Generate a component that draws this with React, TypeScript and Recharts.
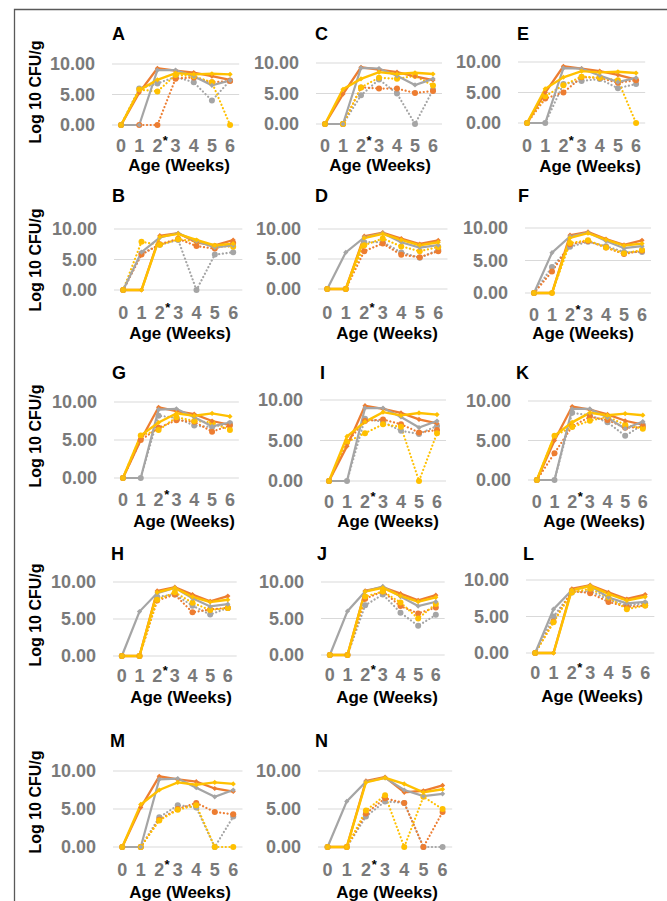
import React from 'react';
import { LineChart, Line, XAxis, YAxis, CartesianGrid } from 'recharts';

const weeks = ['0', '1', '2', '3', '4', '5', '6'];
const yTicks = [0, 5, 10];

// gs/os/ys = solid gray/orange/gold ; gd/od/yd = dotted gray/orange/gold
const A_gs = [0, 0, 9.0, 9.0, 8.0, 6.5, 7.3];
const A_os = [0, 5.3, 9.3, 8.9, 8.6, 8.0, 7.4];
const A_ys = [0, 5.7, 7.4, 8.5, 8.3, 8.4, 8.3];
const A_gd = [0, 6.0, 6.8, 7.9, 7.0, 4.0, 7.3];
const A_od = [0, 0, 0, 7.6, 7.8, 7.0, 7.2];
const A_yd = [0, 5.8, 5.5, 8.2, 8.0, 7.0, 0];

const C_gs = [0, 0, 9.2, 9.1, 7.9, 6.4, 7.4];
const C_os = [0, 4.9, 9.3, 8.9, 8.5, 7.8, 7.2];
const C_ys = [0, 5.7, 7.4, 8.5, 8.2, 8.4, 8.2];
const C_gd = [0, 0, 4.7, 7.3, 5.0, 0, 5.6];
const C_od = [0, 0, 6.0, 5.8, 5.8, 5.1, 5.4];
const C_yd = [0, 0, 6.0, 7.6, 7.4, 7.9, 6.3];

const E_gs = [0, 0, 9.0, 8.9, 7.8, 6.7, 7.4];
const E_os = [0, 5.0, 9.3, 8.9, 8.5, 7.9, 7.1];
const E_ys = [0, 5.6, 7.5, 8.5, 8.3, 8.4, 8.2];
const E_gd = [0, 0, 6.4, 6.9, 7.2, 5.7, 6.4];
const E_od = [0, 4.0, 5.0, 7.5, 7.4, 6.6, 7.0];
const E_yd = [0, 4.4, 6.2, 7.6, 7.4, 7.0, 0];

const B_gs = [0, 6.2, 8.6, 9.3, 8.0, 7.0, 7.3];
const B_os = [0, 0, 8.9, 9.3, 7.8, 7.3, 8.2];
const B_ys = [0, 0, 8.7, 9.2, 8.2, 7.3, 7.6];
const B_gd = [0, 6.0, 7.4, 8.2, 0, 5.8, 6.2];
const B_od = [0, 5.8, 7.5, 8.4, 7.2, 6.8, 7.7];
const B_yd = [0, 7.9, 7.4, 8.3, 8.0, 7.2, 7.1];

const D_gs = [0, 6.1, 8.6, 9.3, 7.8, 6.9, 7.3];
const D_os = [0, 0, 8.8, 9.4, 8.4, 7.5, 8.1];
const D_ys = [0, 0, 8.5, 9.2, 8.2, 7.3, 7.8];
const D_gd = [0, 0, 7.8, 7.8, 6.1, 5.2, 6.5];
const D_od = [0, 0, 6.3, 7.6, 5.7, 5.3, 6.3];
const D_yd = [0, 0, 7.3, 8.4, 7.1, 6.3, 7.0];

const F_gs = [0, 6.2, 8.7, 9.3, 8.0, 6.9, 7.2];
const F_os = [0, 0, 8.9, 9.4, 8.3, 7.4, 8.1];
const F_ys = [0, 0, 8.5, 9.2, 8.2, 7.3, 7.6];
const F_gd = [0, 4.0, 7.1, 7.9, 7.2, 6.3, 6.3];
const F_od = [0, 3.3, 7.5, 8.0, 7.0, 6.0, 6.5];
const F_yd = [0, 0, 7.7, 8.1, 7.0, 6.1, 6.6];

const G_gs = [0, 0, 9.0, 9.1, 8.0, 6.8, 7.3];
const G_os = [0, 5.0, 9.3, 8.8, 8.4, 7.5, 7.0];
const G_ys = [0, 5.6, 7.3, 8.5, 8.2, 8.5, 8.1];
const G_gd = [0, 0, 8.2, 7.9, 6.9, 6.7, 7.2];
const G_od = [0, 5.0, 6.6, 7.6, 7.4, 6.1, 6.9];
const G_yd = [0, 5.6, 6.3, 8.0, 7.5, 7.3, 6.3];

const I_gs = [0, 0, 9.0, 9.0, 7.9, 6.6, 7.4];
const I_os = [0, 4.3, 9.3, 8.9, 8.4, 7.6, 7.1];
const I_ys = [0, 5.5, 7.3, 8.5, 8.1, 8.4, 8.2];
const I_gd = [0, 0, 7.7, 7.3, 6.2, 5.8, 6.8];
const I_od = [0, 4.8, 7.4, 7.6, 7.0, 6.0, 6.3];
const I_yd = [0, 4.8, 5.9, 7.0, 6.7, 0, 5.9];

const K_gs = [0, 0, 9.0, 9.0, 7.9, 6.5, 7.4];
const K_os = [0, 5.0, 9.3, 8.9, 8.3, 7.5, 7.0];
const K_ys = [0, 5.6, 7.3, 8.5, 8.2, 8.4, 8.2];
const K_gd = [0, 0, 8.5, 8.2, 7.3, 5.6, 7.0];
const K_od = [0, 3.4, 6.8, 8.0, 7.6, 6.6, 6.7];
const K_yd = [0, 5.6, 6.7, 7.5, 8.0, 7.0, 6.5];

const H_gs = [0, 6.0, 8.5, 9.2, 7.8, 6.7, 7.0];
const H_os = [0, 0, 8.8, 9.3, 8.3, 7.4, 8.1];
const H_ys = [0, 0, 8.6, 9.2, 8.0, 7.3, 7.6];
const H_gd = [0, 0, 8.0, 8.3, 6.8, 5.6, 6.5];
const H_od = [0, 0, 7.5, 8.3, 5.9, 6.3, 6.5];
const H_yd = [0, 0, 7.6, 8.6, 7.2, 6.2, 6.5];

const J_gs = [0, 6.0, 8.7, 9.4, 8.0, 6.7, 7.3];
const J_os = [0, 0, 8.8, 9.3, 8.4, 7.5, 8.2];
const J_ys = [0, 0, 8.7, 9.2, 8.1, 7.3, 7.9];
const J_gd = [0, 0, 6.8, 8.3, 5.8, 4.0, 5.5];
const J_od = [0, 0, 7.7, 8.7, 6.7, 5.7, 6.5];
const J_yd = [0, 0, 8.0, 8.7, 7.2, 5.0, 7.0];

const L_gs = [0, 6.0, 8.6, 9.2, 7.6, 6.8, 7.0];
const L_os = [0, 0, 8.8, 9.3, 8.3, 7.4, 8.0];
const L_ys = [0, 0, 8.6, 9.2, 8.1, 7.2, 7.7];
const L_gd = [0, 5.0, 8.3, 8.5, 7.3, 6.5, 6.8];
const L_od = [0, 4.3, 8.5, 8.2, 7.0, 6.3, 6.5];
const L_yd = [0, 4.2, 8.3, 8.8, 7.6, 6.0, 6.5];

const M_gs = [0, 0, 8.9, 9.0, 7.8, 6.6, 7.5];
const M_os = [0, 5.2, 9.3, 8.9, 8.6, 7.7, 7.3];
const M_ys = [0, 5.6, 7.5, 8.5, 8.2, 8.5, 8.3];
const M_gd = [0, 0, 3.9, 5.5, 5.2, 0, 4.0];
const M_od = [0, 0, 3.6, 5.0, 5.8, 4.6, 4.3];
const M_yd = [0, 0, 3.5, 4.9, 5.5, 0, 0];

const N_gs = [0, 6.0, 8.6, 9.1, 7.5, 6.7, 7.0];
const N_os = [0, 0, 8.7, 9.2, 7.2, 7.4, 8.1];
const N_ys = [0, 0, 8.5, 9.1, 8.3, 7.2, 7.6];
const N_gd = [0, 0, 4.0, 6.0, 5.8, 0, 0];
const N_od = [0, 0, 4.4, 6.4, 5.8, 0, 4.6];
const N_yd = [0, 0, 4.8, 6.8, 0, 6.6, 5.0];

const seriesById: Record<string, number[][]> = {
  A: [A_gs, A_os, A_ys, A_gd, A_od, A_yd],
  C: [C_gs, C_os, C_ys, C_gd, C_od, C_yd],
  E: [E_gs, E_os, E_ys, E_gd, E_od, E_yd],
  B: [B_gs, B_os, B_ys, B_gd, B_od, B_yd],
  D: [D_gs, D_os, D_ys, D_gd, D_od, D_yd],
  F: [F_gs, F_os, F_ys, F_gd, F_od, F_yd],
  G: [G_gs, G_os, G_ys, G_gd, G_od, G_yd],
  I: [I_gs, I_os, I_ys, I_gd, I_od, I_yd],
  K: [K_gs, K_os, K_ys, K_gd, K_od, K_yd],
  H: [H_gs, H_os, H_ys, H_gd, H_od, H_yd],
  J: [J_gs, J_os, J_ys, J_gd, J_od, J_yd],
  L: [L_gs, L_os, L_ys, L_gd, L_od, L_yd],
  M: [M_gs, M_os, M_ys, M_gd, M_od, M_yd],
  N: [N_gs, N_os, N_ys, N_gd, N_od, N_yd],
};

// layout (page pixels)
type Lay = { id: string; x0: number; x6: number; y10: number; y0: number; lx: number; ly: number; ax: number; tOff: number; aOff: number; yl?: number };
const layouts: Lay[] = [
  { id: 'A', x0: 121, x6: 230, y10: 64, y0: 125, lx: 112, ly: 33, ax: 179, tOff: 21, aOff: 40, yl: 92 },
  { id: 'C', x0: 325, x6: 433, y10: 63, y0: 124, lx: 315, ly: 33, ax: 380, tOff: 22, aOff: 41 },
  { id: 'E', x0: 527, x6: 636, y10: 62, y0: 123, lx: 517, ly: 33, ax: 590, tOff: 23, aOff: 43 },
  { id: 'B', x0: 123, x6: 233, y10: 229, y0: 290, lx: 112, ly: 195, ax: 180, tOff: 23, aOff: 43, yl: 260 },
  { id: 'D', x0: 327, x6: 438, y10: 229, y0: 289, lx: 315, ly: 195, ax: 387, tOff: 24, aOff: 44 },
  { id: 'F', x0: 534, x6: 642, y10: 228, y0: 293, lx: 518, ly: 195, ax: 583, tOff: 22, aOff: 40 },
  { id: 'G', x0: 123, x6: 230, y10: 402, y0: 478, lx: 112, ly: 372, ax: 184, tOff: 22, aOff: 43, yl: 436 },
  { id: 'I', x0: 329, x6: 437, y10: 400, y0: 481, lx: 320, ly: 372, ax: 388, tOff: 21, aOff: 40 },
  { id: 'K', x0: 537, x6: 643, y10: 401, y0: 480, lx: 516, ly: 372, ax: 594, tOff: 22, aOff: 41 },
  { id: 'H', x0: 122, x6: 228, y10: 582, y0: 656, lx: 111, ly: 553, ax: 181, tOff: 20, aOff: 41, yl: 615 },
  { id: 'J', x0: 330, x6: 436, y10: 582, y0: 655, lx: 317, ly: 553, ax: 387, tOff: 20, aOff: 42 },
  { id: 'L', x0: 535, x6: 645, y10: 580, y0: 653, lx: 523, ly: 553, ax: 592, tOff: 20, aOff: 43 },
  { id: 'M', x0: 122, x6: 233, y10: 771, y0: 847, lx: 110, ly: 740, ax: 180, tOff: 23, aOff: 45, yl: 802 },
  { id: 'N', x0: 328, x6: 443, y10: 771, y0: 847, lx: 315, ly: 740, ax: 387, tOff: 23, aOff: 45 },
];

const GRAY = '#A5A5A5';
const ORANGE = '#ED7D31';
const GOLD = '#FFC000';
const FONT = '"Liberation Sans", Arial, sans-serif';
const TICK = '#7a7a7a';
const GAP = 17;

const keys = ['gs', 'os', 'ys', 'gd', 'od', 'yd'];

const diamond = (color: string) => (p: any) => {
  const { cx, cy, index } = p;
  if (cx == null || cy == null) return <g key={`e${index}`} />;
  const s = 2.6;
  return <path key={`d${index}`} d={`M${cx},${cy - s}L${cx + s},${cy}L${cx},${cy + s}L${cx - s},${cy}Z`} fill={color} />;
};

function Panel({ L }: { L: Lay }) {
  const ser = seriesById[L.id];
  const step = (L.x6 - L.x0) / 6;
  const plotL = L.x0 - step / 2;
  const plotR = L.x6 + step / 2;
  const tr = plotL - GAP;
  const chartLeft = tr - 56;
  const yw = plotL - chartLeft;
  const top = L.y10 - 10;
  const plotH = L.y0 - L.y10;
  const h = 10 + plotH + 40;
  const w = yw + (plotR - plotL) + 4;
  const data = weeks.map((wk, i) => {
    const row: any = { wk };
    keys.forEach((k, j) => { row[k] = ser[j][i]; });
    return row;
  });
  const dotted = (key: string, color: string) => (
    <Line key={key} dataKey={key} type="linear" stroke={color} strokeWidth={2.2}
      strokeDasharray="0.1 3.6" strokeLinecap="round" isAnimationActive={false} activeDot={false}
      dot={{ r: 3, fill: color, stroke: 'none', strokeWidth: 0, strokeDasharray: 'none' }} />
  );
  const solid = (key: string, color: string, sw: number) => (
    <Line key={key} dataKey={key} type="linear" stroke={color} strokeWidth={sw}
      isAnimationActive={false} activeDot={false} dot={diamond(color)} />
  );
  return (
    <div style={{ position: 'absolute', left: chartLeft, top }}>
      <LineChart width={w} height={h} data={data} margin={{ top: 10, right: 4, bottom: 0, left: 0 }}>
        <CartesianGrid vertical={false} stroke="#d9d9d9" strokeWidth={1} />
        <XAxis dataKey="wk" axisLine={false} tickLine={false} tickSize={0} tickMargin={L.tOff - 6.3}
          height={40} interval={0} padding={{ left: step / 2, right: step / 2 }}
          tick={{ fill: TICK, fontSize: 18, fontWeight: 700, fontFamily: FONT }} />
        <YAxis domain={[0, 10]} ticks={yTicks} width={yw} axisLine={false} tickLine={false} tickSize={0}
          tickMargin={GAP} interval={0} tickFormatter={(v: number) => v.toFixed(2)}
          tick={{ fill: TICK, fontSize: 18, fontWeight: 700, fontFamily: FONT }} />
        {dotted('gd', GRAY)}
        {dotted('od', ORANGE)}
        {dotted('yd', GOLD)}
        {solid('os', ORANGE, 2.3)}
        {solid('gs', GRAY, 2.2)}
        {solid('ys', GOLD, 2.4)}
      </LineChart>
    </div>
  );
}

export default function App() {
  return (
    <div style={{ position: 'relative', width: 667, height: 901, background: '#fff', overflow: 'hidden', fontFamily: FONT }}>
      <style>{'body{margin:0}'}</style>
      {layouts.map((L) => <Panel key={L.id} L={L} />)}
      <svg width={667} height={901} style={{ position: 'absolute', left: 0, top: 0, pointerEvents: 'none' }}>
        <path d="M14.5,901 L14.5,9.5 L667,9.5" fill="none" stroke="#595959" strokeWidth={1.3} />
        {layouts.map((L) => {
          const step = (L.x6 - L.x0) / 6;
          const x2 = L.x0 + 2 * step;
          return (
            <g key={L.id} fontFamily={FONT} fontWeight={700}>
              <text x={L.lx} y={L.ly + 6.5} fontSize={18} fill="#000">{L.id}</text>
              <text x={L.ax} y={L.y0 + L.aOff + 6} fontSize={17} fill="#000" textAnchor="middle">Age (Weeks)</text>
              <text x={x2 + 8} y={L.y0 + L.tOff - 1} fontSize={13} fill="#000" textAnchor="middle">*</text>
              {L.yl !== undefined && (
                <text transform={`translate(41, ${L.yl}) rotate(-90)`} fontSize={16} fill="#000" textAnchor="middle">Log 10 CFU/g</text>
              )}
            </g>
          );
        })}
      </svg>
    </div>
  );
}
